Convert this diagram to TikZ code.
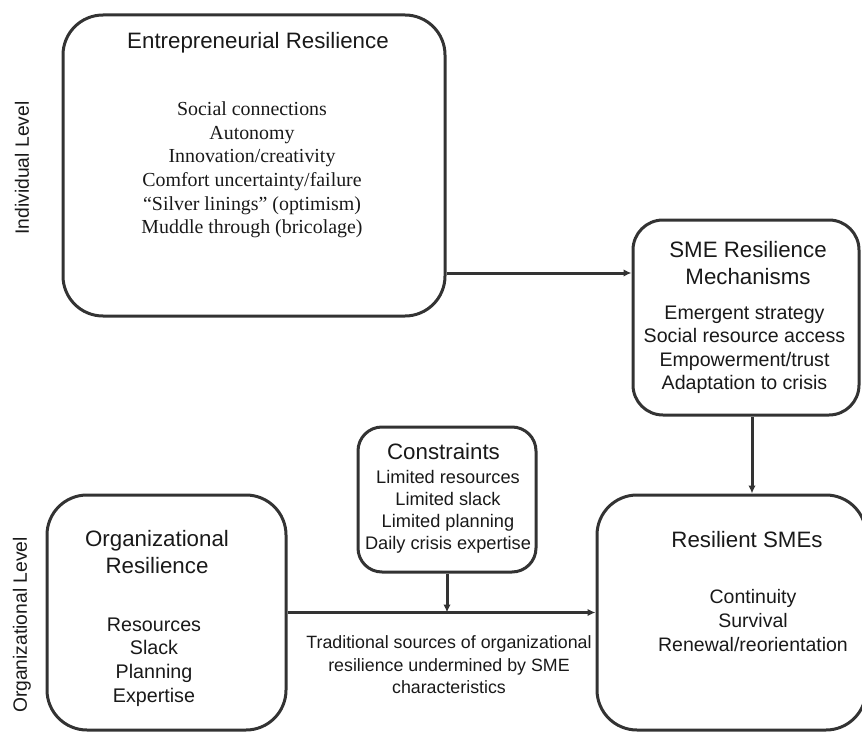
\documentclass[tikz,border=0pt]{standalone}
\usepackage{fontspec}
\setmainfont{Liberation Serif}
\setsansfont{Liberation Sans}
\usetikzlibrary{arrows.meta}

\begin{document}
\begin{tikzpicture}[x=1pt, y=-1pt, >={Latex[length=8pt,width=7.5pt]}, line width=3pt,
  box/.style={draw=black!80, rounded corners=#1, inner sep=0pt},
  head/.style={font=\sffamily\fontsize{22.3}{27}\selectfont, align=center, text=black!90},
  items/.style={font=\sffamily\fontsize{19.6}{23.5}\selectfont, align=center, text=black!90},
  side/.style={font=\sffamily\fontsize{19.3}{23}\selectfont, rotate=90, text=black!90}]
  \clip (0,0) rectangle (862,733);

  % ==================== individual level ====================
  \node[box=40, minimum width=382pt, minimum height=301pt] (ent) at (254,165.5) {};
  \node[head] (entT) at (258,43) {Entrepreneurial Resilience};
  \node[font=\rmfamily\fontsize{19.9}{23.6}\selectfont, align=center, text=black!90] (entL) at (252,170)
    {Social connections\\Autonomy\\Innovation/creativity\\Comfort uncertainty/failure\\%
     ``Silver linings'' (optimism)\\Muddle through (bricolage)};

  \node[box=30, minimum width=226pt, minimum height=195pt] (mech) at (746,317.5) {};
  \node[head] (mechT) at (748,263) {SME Resilience\\Mechanisms};
  \node[items] (mechL) at (744.5,350) {Emergent strategy\\Social resource access\\Empowerment/trust\\Adaptation to crisis};

  \node[side] (indiv) at (22,168) {Individual Level};

  % ==================== organizational level ====================
  \node[box=24, minimum width=178pt, minimum height=145pt] (con) at (447,499.5) {};
  \node[head] (conT) at (443.5,452) {Constraints};
  \node[items, font=\sffamily\fontsize{18.2}{22.1}\selectfont] (conL) at (448,512)
    {Limited resources\\Limited slack\\Limited planning\\Daily crisis expertise};

  \node[box=40, minimum width=239pt, minimum height=235pt] (org) at (166.5,612.5) {};
  \node[head] (orgT) at (157,552) {Organizational\\Resilience};
  \node[items, font=\sffamily\fontsize{19.7}{23.7}\selectfont] (orgL) at (154,662) {Resources\\Slack\\Planning\\Expertise};

  \node[box=40, minimum width=269pt, minimum height=235pt] (res) at (731.5,612.5) {};
  \node[head] (resT) at (747,540) {Resilient SMEs};
  \node[items, font=\sffamily\fontsize{19.5}{24}\selectfont] (resL) at (753,621) {Continuity\\Survival\\Renewal/reorientation};

  \node[items, font=\sffamily\fontsize{17.8}{22.5}\selectfont] (trad) at (449,665)
    {Traditional sources of organizational\\resilience undermined by SME\\characteristics};

  \node[side] (orglev) at (22,625) {Organizational Level};

  % ==================== connectors ====================
  \coordinate (e2m) at (0,273);
  \coordinate (m2r) at (752,0);
  \draw[->, black!80] (ent.east |- e2m) -- (mech.west |- e2m);
  \draw[->, black!80] (mech.south -| m2r) -- (res.north -| m2r);
  \draw[->, black!80] (org.east) -- (res.west);
  \draw[->, black!80] (con.south) -- (con.south |- org.east);
\end{tikzpicture}
\end{document}
